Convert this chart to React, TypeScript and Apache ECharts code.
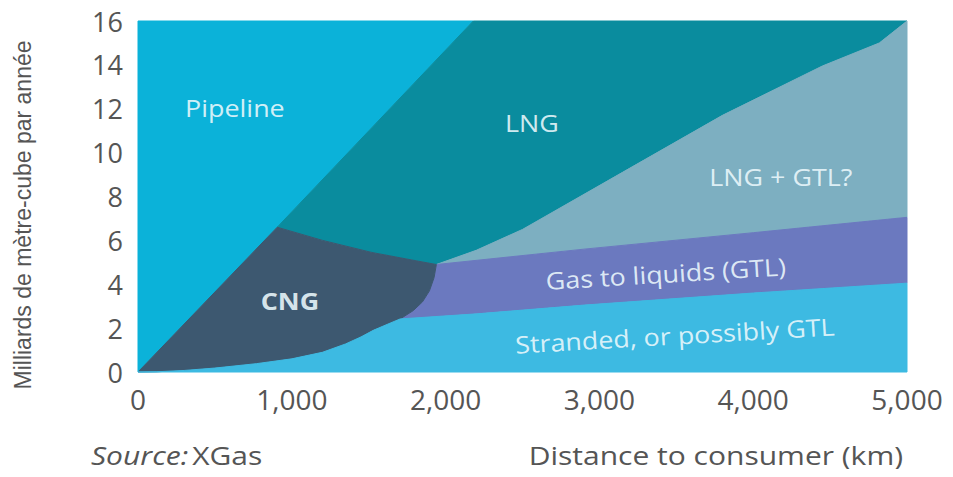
import React, { useEffect, useRef } from "react";
import * as echarts from "echarts";

// Axis ranges / ticks
const X_MIN = 0;
const X_MAX = 5000;
const X_INTERVAL = 1000;
const Y_MIN = 0;
const Y_MAX = 16;
const Y_INTERVAL = 2;

// Boundaries between regions, [distance km, bcm/year]
const PIPELINE_EDGE: number[][] = [[0, 0], [905, 6.6], [2180, 16]];
const CNG_TOP: number[][] = [[905, 6.6], [1200, 6.0], [1520, 5.45], [1800, 5.08], [1940, 4.9]];
const CNG_RIGHT: number[][] = [[1940, 4.9], [1925, 4.3], [1895, 3.7], [1850, 3.2], [1790, 2.8], [1705, 2.42]];
const CNG_BOTTOM: number[][] = [
  [1705, 2.42], [1620, 2.17], [1530, 1.9], [1450, 1.6], [1350, 1.28], [1200, 0.9], [1000, 0.6],
  [770, 0.38], [500, 0.18], [300, 0.07], [120, 0.01], [0, 0],
];
const STRANDED_TOP: number[][] = [[1705, 2.42], [2200, 2.65], [2900, 3.05], [4000, 3.6], [5000, 4.05]];
const GTL_TOP: number[][] = [[1940, 4.9], [2900, 5.6], [4000, 6.35], [5000, 7.05]];
const LNG_GTL_TOP: number[][] = [
  [1940, 4.9], [2200, 5.55], [2500, 6.5], [3150, 9.1], [3800, 11.7], [4450, 13.95], [4820, 15.0], [5000, 16],
];

// Region names, colours and label anchors
const REGION_NAMES = ["Pipeline", "LNG", "LNG + GTL?", "GTL", "CNG", "Stranded"];
const REGION_COLORS = ["#0BB2D9", "#0A8C9E", "#7DAFC1", "#6B79BF", "#3D5870", "#3DBAE2"];

const LABEL_TEXTS = ["Pipeline", "LNG", "LNG + GTL?", "Gas to liquids (GTL)", "Stranded, or possibly GTL", "CNG"];
const LABEL_POS: number[][] = [[630, 12.05], [2561, 11.36], [4180, 8.9], [3432, 4.5], [3490, 1.68], [988, 3.27]];
const LABEL_ROTATE = [0, 0, 0, 3.5, 3.3, 0];
const LABEL_BOLD = [false, false, false, false, false, true];

const rev = (a: number[][]) => a.slice().reverse();

const REGION_POLYS: number[][][] = [
  // Pipeline
  [[X_MIN, Y_MIN], ...PIPELINE_EDGE.slice(1), [X_MIN, Y_MAX]],
  // LNG
  [...PIPELINE_EDGE.slice(1), [X_MAX, Y_MAX], ...rev(LNG_GTL_TOP).slice(1), ...rev(CNG_TOP).slice(1, -1)],
  // LNG + GTL
  [...LNG_GTL_TOP, ...rev(GTL_TOP).slice(0, -1)],
  // GTL
  [...GTL_TOP, ...rev(STRANDED_TOP), ...rev(CNG_RIGHT).slice(1, -1)],
  // CNG
  [...PIPELINE_EDGE.slice(0, 2), ...CNG_TOP.slice(1), ...CNG_RIGHT.slice(1), ...CNG_BOTTOM.slice(1, -1)],
  // Stranded
  [...rev(CNG_BOTTOM), ...STRANDED_TOP.slice(1), [X_MAX, Y_MIN]],
];

const TICK_FONT = "'Open Sans', 'DejaVu Sans', sans-serif";

export default function App() {
  const ref = useRef<HTMLDivElement>(null);

  useEffect(() => {
    if (!ref.current) return;
    const chart = echarts.init(ref.current, undefined, { renderer: "svg" });

    const option: any = {
      animation: false,
      backgroundColor: "#ffffff",
      grid: { left: 138, right: 46, top: 21, bottom: 105, outerBoundsMode: "none", containLabel: false },
      xAxis: {
        type: "value",
        min: X_MIN,
        max: X_MAX,
        interval: X_INTERVAL,
        axisLine: { show: false },
        axisTick: { show: false },
        splitLine: { show: false },
        axisLabel: {
          margin: 13,
          color: "#555",
          fontSize: 28,
          fontFamily: TICK_FONT,
          formatter: (v: number) => v.toLocaleString("en-US"),
        },
      },
      yAxis: {
        type: "value",
        min: Y_MIN,
        max: Y_MAX,
        interval: Y_INTERVAL,
        axisLine: { show: false },
        axisTick: { show: false },
        splitLine: { show: false },
        axisLabel: {
          margin: 15,
          color: "#555",
          fontSize: 27,
          fontFamily: TICK_FONT,
        },
      },
      series: [
        {
          type: "custom",
          name: "regions",
          coordinateSystem: "cartesian2d",
          data: REGION_NAMES.map((n, i) => [REGION_POLYS[i][0][0], REGION_POLYS[i][0][1], i]),
          renderItem: (params: any, api: any) => {
            const i = params.dataIndex;
            const pts = REGION_POLYS[i].map((p) => api.coord(p));
            return {
              type: "polygon",
              shape: { points: pts },
              style: { fill: REGION_COLORS[i], stroke: REGION_COLORS[i], lineWidth: 1 },
            };
          },
          z: 1,
          silent: true,
        },
        {
          type: "custom",
          name: "labels",
          coordinateSystem: "cartesian2d",
          data: LABEL_POS.map((p, i) => [p[0], p[1], i]),
          renderItem: (params: any, api: any) => {
            const i = params.dataIndex;
            const c = api.coord([api.value(0), api.value(1)]);
            return {
              type: "text",
              x: c[0],
              y: c[1],
              scaleX: 1.12,
              rotation: (LABEL_ROTATE[i] * Math.PI) / 180,
              style: {
                text: LABEL_TEXTS[i],
                fill: "rgba(235,248,252,0.9)",
                font: `${LABEL_BOLD[i] ? "bold " : ""}24px ${TICK_FONT}`,
                align: "center",
                verticalAlign: "middle",
              },
            };
          },
          z: 5,
          silent: true,
        },
      ],
      graphic: [
        {
          type: "text",
          x: 23,
          y: 215,
          rotation: Math.PI / 2,
          style: {
            text: "Milliards de mètre-cube par année",
            fill: "#555",
            font: "23px 'Liberation Sans', Arial, sans-serif",
            align: "center",
            verticalAlign: "middle",
          },
        },
        {
          type: "text",
          x: 91,
          y: 455,
          scaleX: 1.2,
          style: {
            text: "{i|Source:} {n|XGas}",
            rich: {
              i: { fontStyle: "italic", fontSize: 25, fontFamily: TICK_FONT, fill: "#555", color: "#555" },
              n: { fontSize: 25, fontFamily: TICK_FONT, fill: "#555", color: "#555" },
            },
            verticalAlign: "middle",
            align: "left",
          },
        },
        {
          type: "text",
          x: 903,
          y: 455,
          scaleX: 1.2,
          style: {
            text: "Distance to consumer (km)",
            fill: "#555",
            font: `25px ${TICK_FONT}`,
            align: "right",
            verticalAlign: "middle",
          },
        },
      ],
    };

    chart.setOption(option);
    return () => chart.dispose();
  }, []);

  return <div ref={ref} style={{ width: 953, height: 477, margin: -8 }} />;
}
